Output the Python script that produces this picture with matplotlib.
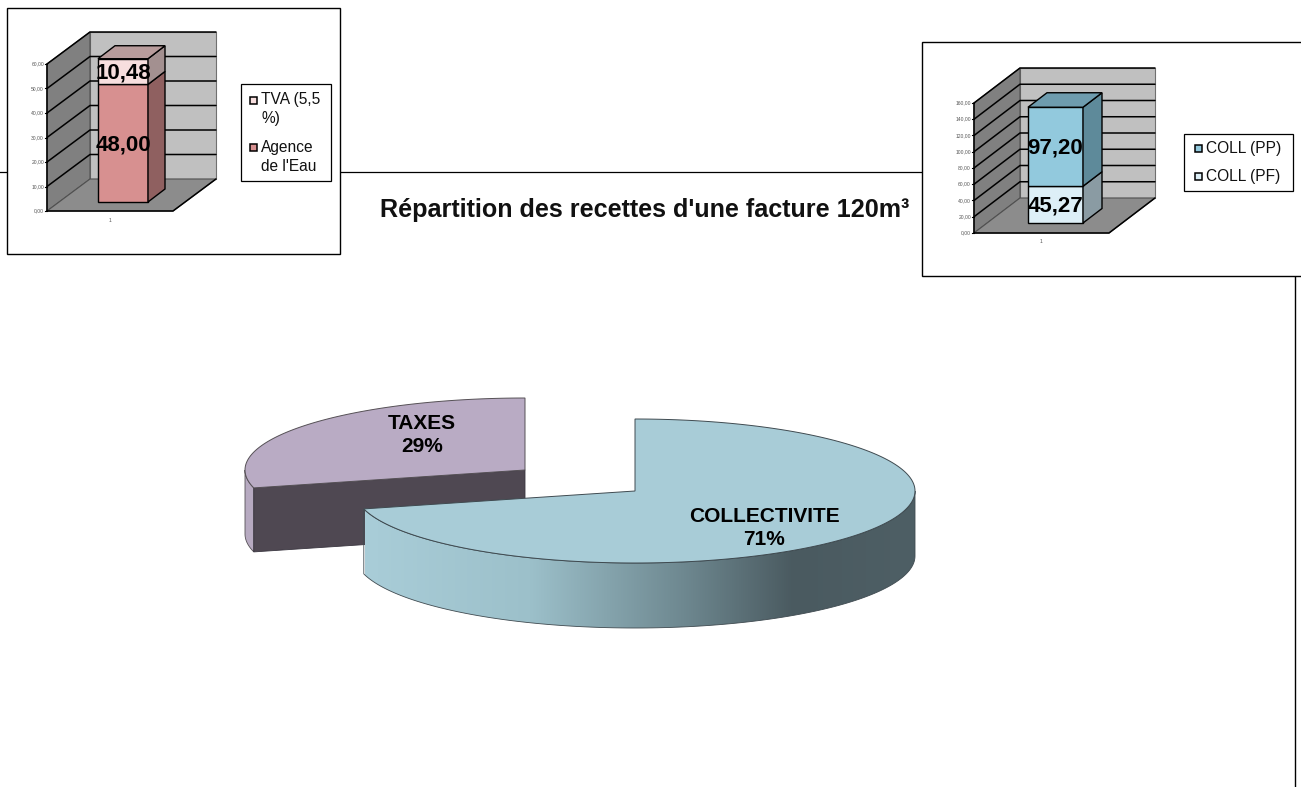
import matplotlib
matplotlib.use("Agg")
import matplotlib.pyplot as plt
import numpy as np
from matplotlib.colors import LinearSegmentedColormap
from matplotlib.patches import Polygon, Rectangle

plt.rcParams['font.family'] = ['Liberation Sans', 'DejaVu Sans']

W, H = 1301, 787

# pie data
pie_labels = ["COLLECTIVITE", "TAXES"]
pie_values = [71, 29]

# left small chart
left_series = ["Agence\nde l'Eau", "TVA (5,5\n%)"]
left_values = [48.00, 10.48]
left_ticks = [0, 10, 20, 30, 40, 50, 60]

# right small chart
right_series = ["COLL (PF)", "COLL (PP)"]
right_values = [45.27, 97.20]
right_ticks = [0, 20, 40, 60, 80, 100, 120, 140, 160]

title = "Répartition des recettes d'une facture 120m³"


def fr(v):
    return f"{v:.2f}".replace(".", ",")


def bar3d(x_axis, x_right, y0, ytop, ticks, dx, dy, bar_x, bar_bottom, bar_dx, bar_dy,
          values, fronts, sides, top_col):
    # axes in image px for x, chart values for y
    ax = fig.add_axes([0, 0, 1, 1], facecolor="none")
    ax.axis("off")
    scale = (y0 - ytop) / ticks[-1]
    ax.set_xlim(0, W)
    ax.set_ylim(-(H - y0) / scale, y0 / scale)
    up = dy / scale
    vmax = ticks[-1]
    ln = dict(color="black", lw=1.1, solid_capstyle="round")
    # walls and floor
    ax.add_patch(Polygon([(x_axis + dx, up), (x_right + dx, up), (x_right + dx, up + vmax),
                          (x_axis + dx, up + vmax)], fc="#C0C0C0", ec="#707070", lw=0.8))
    ax.add_patch(Polygon([(x_axis, 0), (x_axis + dx, up), (x_axis + dx, up + vmax), (x_axis, vmax)],
                         fc="#808080", ec="#505050", lw=0.8))
    ax.add_patch(Polygon([(x_axis, 0), (x_right, 0), (x_right + dx, up), (x_axis + dx, up)],
                         fc="#8C8C8C", ec="#505050", lw=0.8))
    for t in ticks:
        if t > 0:
            ax.plot([x_axis, x_axis + dx, x_right + dx], [t, t + up, t + up], **ln)
        ax.plot([x_axis - 2, x_axis], [t, t], color="black", lw=0.8)
        ax.text(x_axis - 3, t, fr(t), ha="right", va="center", fontsize=3.6, color="#555555")
    ax.plot([x_axis, x_axis], [0, vmax], **ln)
    ax.plot([x_axis, x_right, x_right + dx], [0, 0, up], **ln)
    ax.text((x_axis + x_right) / 2, -9 / scale, "1", ha="center", va="center", fontsize=3.6,
            color="#555555")

    # stacked bar
    x1, x2 = bar_x
    base = (y0 - bar_bottom) / scale
    d = bar_dy / scale
    start = base
    for v, front, side in zip(values, fronts, sides):
        stop = start + v
        ax.add_patch(Polygon([(x1, start), (x2, start), (x2, stop), (x1, stop)], fc=front,
                             ec="black", lw=1.0, zorder=3))
        ax.add_patch(Polygon([(x2, start), (x2 + bar_dx, start + d), (x2 + bar_dx, stop + d),
                              (x2, stop)], fc=side, ec="black", lw=1.0, zorder=3))
        ax.text((x1 + x2) / 2, (start + stop) / 2 - 1.5 / scale, fr(v), ha="center", va="center",
                fontsize=16, fontweight="bold", color="black", zorder=5)
        start = stop
    ax.add_patch(Polygon([(x1, start), (x2, start), (x2 + bar_dx, start + d), (x1 + bar_dx, start + d)],
                         fc=top_col, ec="black", lw=1.0, zorder=3))


def arc(cx, cy, rx, ry, t):
    # t in degrees, clockwise from 12 o'clock, y pointing down
    t = np.radians(t)
    return np.column_stack([cx + rx * np.sin(t), cy - ry * np.cos(t)])


fig = plt.figure(figsize=(W / 100, H / 100), dpi=100)
main = fig.add_axes([0, 0, 1, 1])
main.set_xlim(0, W)
main.set_ylim(H, 0)
main.axis("off")

# connector lines behind the small charts
main.plot([0, 922], [172, 172], color="black", lw=0.9)
main.plot([1294.5, 1294.5], [277, H], color="black", lw=1.0)
main.add_patch(Rectangle((7, 8), 333, 246, fc="white", ec="black", lw=1.0, zorder=2))
main.add_patch(Rectangle((922, 42), 400, 234, fc="white", ec="black", lw=1.0, zorder=2))
main.text(380, 210, title, ha="left", va="center", fontsize=18.1, fontweight="bold", color="#111111")

# pie: shares drive the wedge angles
coll_angle = 360 * pie_values[0] / sum(pie_values)
tax_angle = 360 * pie_values[1] / sum(pie_values)
RX, RY, DEPTH = 280, 72, 65
c_coll = (635, 491)
c_tax = (525, 470)

# taxes slice, exploded to the upper left
t = np.linspace(-tax_angle, 0, 120)
top_tax = arc(*c_tax, RX, RY, t)
corner = arc(*c_tax, RX, RY, np.array([-tax_angle]))[0]
rim = arc(*c_tax, RX, RY, np.linspace(-tax_angle, -90, 30))
main.add_patch(Polygon(np.vstack([rim, rim[::-1] + [0, DEPTH - 1]]), fc="#B7AAC1", ec="#555055", lw=0.6))
main.add_patch(Polygon([c_tax, corner, corner + [0, DEPTH - 1], (c_tax[0], c_tax[1] + DEPTH - 1)],
                       fc="#4F4852", ec="#3A3640", lw=0.6))
main.add_patch(Polygon(np.vstack([[c_tax], top_tax]), fc="#B9ABC4", ec="#555055", lw=0.7))

# collectivite slice, outer wall with the light to dark shading
t = np.linspace(90, coll_angle, 160)
edge = arc(*c_coll, RX, RY, t)
wall = Polygon(np.vstack([edge, edge[::-1] + [0, DEPTH]]), fc="none", ec="none", transform=main.transData)
main.add_patch(wall)
shade = LinearSegmentedColormap.from_list(
    "shade", [(0, "#A9CDD8"), (0.30, "#9CC0CA"), (0.58, "#6E8890"), (0.78, "#4A5A60"), (1, "#4E5F65")])
img = main.imshow(np.linspace(0, 1, 256)[None, :], cmap=shade, aspect="auto",
                  extent=(365, 915, 491 + 2 * DEPTH + 10, 491), zorder=1.5)
img.set_clip_path(wall)
main.set_xlim(0, W)
main.set_ylim(H, 0)
main.add_patch(Polygon(np.vstack([edge, edge[::-1] + [0, DEPTH]]), fc="none", ec="#3F4A50", lw=0.6, zorder=1.6))
t = np.linspace(0, coll_angle, 240)
main.add_patch(Polygon(np.vstack([[c_coll], arc(*c_coll, RX, RY, t)]), fc="#A8CCD7", ec="#3F4A50",
                       lw=0.7, zorder=1.7))

main.text(422, 435, f"{pie_labels[1]}\n{pie_values[1]}%", ha="center", va="center", fontsize=15,
          fontweight="bold", linespacing=1.25, color="black")
main.text(764, 528, f"{pie_labels[0]}\n{pie_values[0]}%", ha="center", va="center", fontsize=15,
          fontweight="bold", linespacing=1.25, color="black", zorder=3)

bar3d(47, 173, 211, 64, left_ticks, 43, 32, (98, 148), 202, 17, 13, left_values,
      ["#D79090", "#F7DEDE"], ["#8F6060", "#A39090"], "#B89C9C")
bar3d(974, 1109, 233, 103, right_ticks, 46, 35, (1028, 1083), 223, 19, 14.5, right_values,
      ["#DDEFF7", "#92C9DD"], ["#8A9BA3", "#5E8A9A"], "#6E9CAE")

leg = fig.add_axes([0, 0, 1, 1], facecolor="none")
leg.set_xlim(0, W)
leg.set_ylim(H, 0)
leg.axis("off")
leg.add_patch(Rectangle((241, 84), 90, 97, fc="white", ec="black", lw=0.9))
leg.add_patch(Rectangle((1184, 134), 109, 57, fc="white", ec="black", lw=0.9))
for sx, sy, fc, txt, tx, ty in [
    (250, 97, "#F7DEDE", left_series[1], 261, 109),
    (250, 144, "#D79090", left_series[0], 261, 157),
    (1195, 145, "#92C9DD", right_series[1], 1206, 148),
    (1195, 173, "#DDEFF7", right_series[0], 1206, 176),
]:
    leg.add_patch(Rectangle((sx, sy), 7, 7, fc=fc, ec="black", lw=1.1))
    leg.text(tx, ty, txt, ha="left", va="center", fontsize=11.2, linespacing=1.4, color="#111111")

fig.savefig("out.png", dpi=100)
